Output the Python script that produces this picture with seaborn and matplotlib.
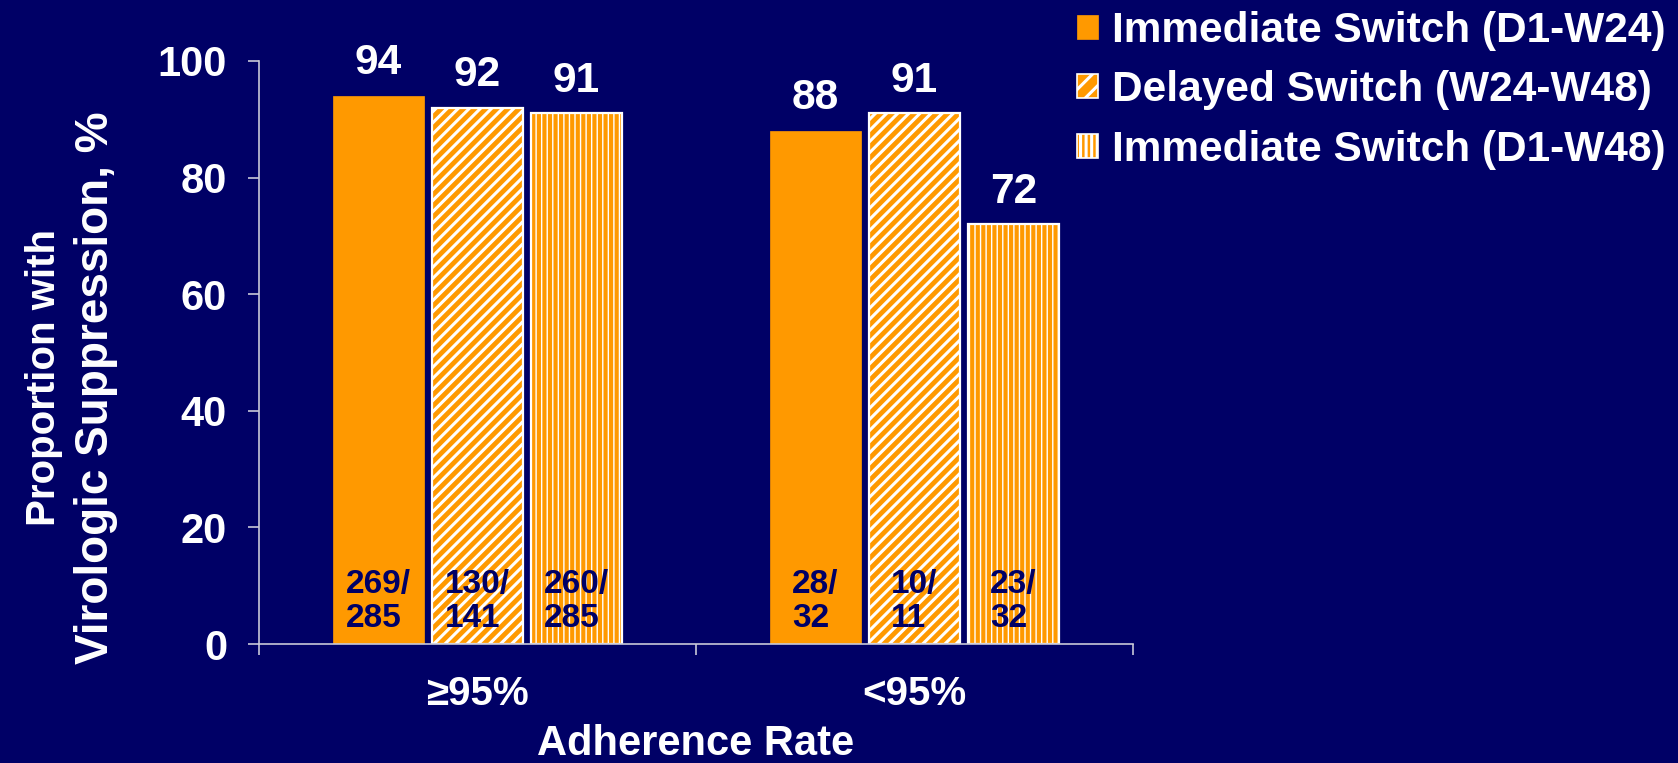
import matplotlib
matplotlib.use("Agg")
import matplotlib.pyplot as plt
from matplotlib.patches import Patch
import seaborn as sns
import pandas as pd

# ---- data ----
categories = ["\u226595%", "<95%"]
series = ["Immediate Switch (D1-W24)", "Delayed Switch (W24-W48)", "Immediate Switch (D1-W48)"]
values = {
    "Immediate Switch (D1-W24)": [94, 88],
    "Delayed Switch (W24-W48)": [92, 91],
    "Immediate Switch (D1-W48)": [91, 72],
}
counts = {
    "Immediate Switch (D1-W24)": ["269/\n285", "28/\n32"],
    "Delayed Switch (W24-W48)": ["130/\n141", "10/\n11"],
    "Immediate Switch (D1-W48)": ["260/\n285", "23/\n32"],
}
hatches = ["", "///", "|||"]
hatch_lw = [0, 2.2, 1.0]
y_ticks = [0, 20, 40, 60, 80, 100]
ylabel_lines = ["Proportion with", "Virologic Suppression, %"]
xlabel = "Adherence Rate"

BG = "#000066"
ORANGE = "#FF9900"
WHITE = "#FFFFFF"
AXC = "#C8C8D8"

rows = []
for s in series:
    for c, v in zip(categories, values[s]):
        rows.append({"Adherence": c, "Series": s, "Value": v})
df = pd.DataFrame(rows)

sns.set_theme(style="white")
plt.rcParams["font.family"] = ["Liberation Sans", "DejaVu Sans"]
plt.rcParams["font.weight"] = "bold"
plt.rcParams["hatch.linewidth"] = 2.2

fig = plt.figure(figsize=(16.78, 7.63), dpi=100, facecolor=BG)
ax = fig.add_axes([259 / 1678, 1 - 644 / 763, 874 / 1678, 583 / 763])
ax.set_facecolor(BG)

sns.barplot(data=df, x="Adherence", y="Value", hue="Series", order=categories,
            hue_order=series, palette=[ORANGE] * 3, width=0.68, gap=0.08,
            ax=ax, legend=False, saturation=1)

for i, cont in enumerate(ax.containers):
    s = series[i]
    for j, bar in enumerate(cont):
        bar.set_facecolor(ORANGE)
        if hatches[i]:
            bar.set_hatch(hatches[i])
            bar.set_edgecolor(WHITE)
            bar.set_linewidth(1.6)
            if hasattr(bar, "set_hatch_linewidth"):
                bar.set_hatch_linewidth(hatch_lw[i])
        else:
            bar.set_edgecolor(ORANGE)
            bar.set_linewidth(0.5)
        x = bar.get_x() + bar.get_width() / 2
        h = bar.get_height()
        ax.annotate(str(values[s][j]), xy=(x, h), xytext=(0, 9), textcoords="offset points",
                    ha="center", va="bottom", color=WHITE, fontsize=30.5, fontweight="bold",
                    annotation_clip=False)
        ax.annotate(counts[s][j], xy=(x, 0), xytext=(0, 7.5), textcoords="offset points",
                    ha="center", va="bottom", multialignment="left", color=BG,
                    fontsize=24, fontweight="bold", linespacing=1.12)

ax.set_ylim(0, 100)
ax.set_xlim(-0.5, 1.5)
ax.set_yticks(y_ticks)
ax.set_yticklabels([str(t) for t in y_ticks], color=WHITE, fontsize=30, fontweight="bold")
ax.set_xticks([0, 1])
ax.set_xticklabels(categories, color=WHITE, fontsize=29, fontweight="bold")
ax.set_xticks([-0.5, 0.5, 1.5], minor=True)
ax.tick_params(axis="x", which="major", length=0, pad=22)
ax.tick_params(axis="x", which="minor", length=8, width=1.2, color=AXC, direction="out", bottom=True)
ax.tick_params(axis="y", which="major", length=8, width=1.2, color=AXC, direction="out", pad=15, left=True)

for sp in ["top", "right"]:
    ax.spines[sp].set_visible(False)
for sp in ["left", "bottom"]:
    ax.spines[sp].set_color(AXC)
    ax.spines[sp].set_linewidth(1.2)

ax.set_ylabel("")
ax.set_xlabel(xlabel, color=WHITE, fontsize=30, fontweight="bold", labelpad=8)

fig.text(44 / 1678, 1 - 378 / 763, ylabel_lines[0], rotation=90, ha="center", va="center",
         color=WHITE, fontsize=29, fontweight="bold")
fig.text(96 / 1678, 1 - 388 / 763, ylabel_lines[1], rotation=90, ha="center", va="center",
         color=WHITE, fontsize=33, fontweight="bold")

handles = []
for i, s in enumerate(series):
    p = Patch(facecolor=ORANGE, edgecolor=WHITE if hatches[i] else ORANGE,
              hatch=hatches[i].replace("///", "//"), linewidth=1.2 if hatches[i] else 0.5, label=s)
    if hatches[i] and hasattr(p, "set_hatch_linewidth"):
        p.set_hatch_linewidth(hatch_lw[i])
    handles.append(p)
leg = fig.legend(handles=handles, loc="upper left", bbox_to_anchor=(1077 / 1678, 0.986),
                 frameon=False, borderpad=0, borderaxespad=0,
                 handlelength=0.5, handleheight=0.5, handletextpad=0.33, labelspacing=0.46,
                 prop={"weight": "bold", "size": 30.5})
for t in leg.get_texts():
    t.set_color(WHITE)

fig.savefig("out.png", dpi=100, facecolor=BG)
